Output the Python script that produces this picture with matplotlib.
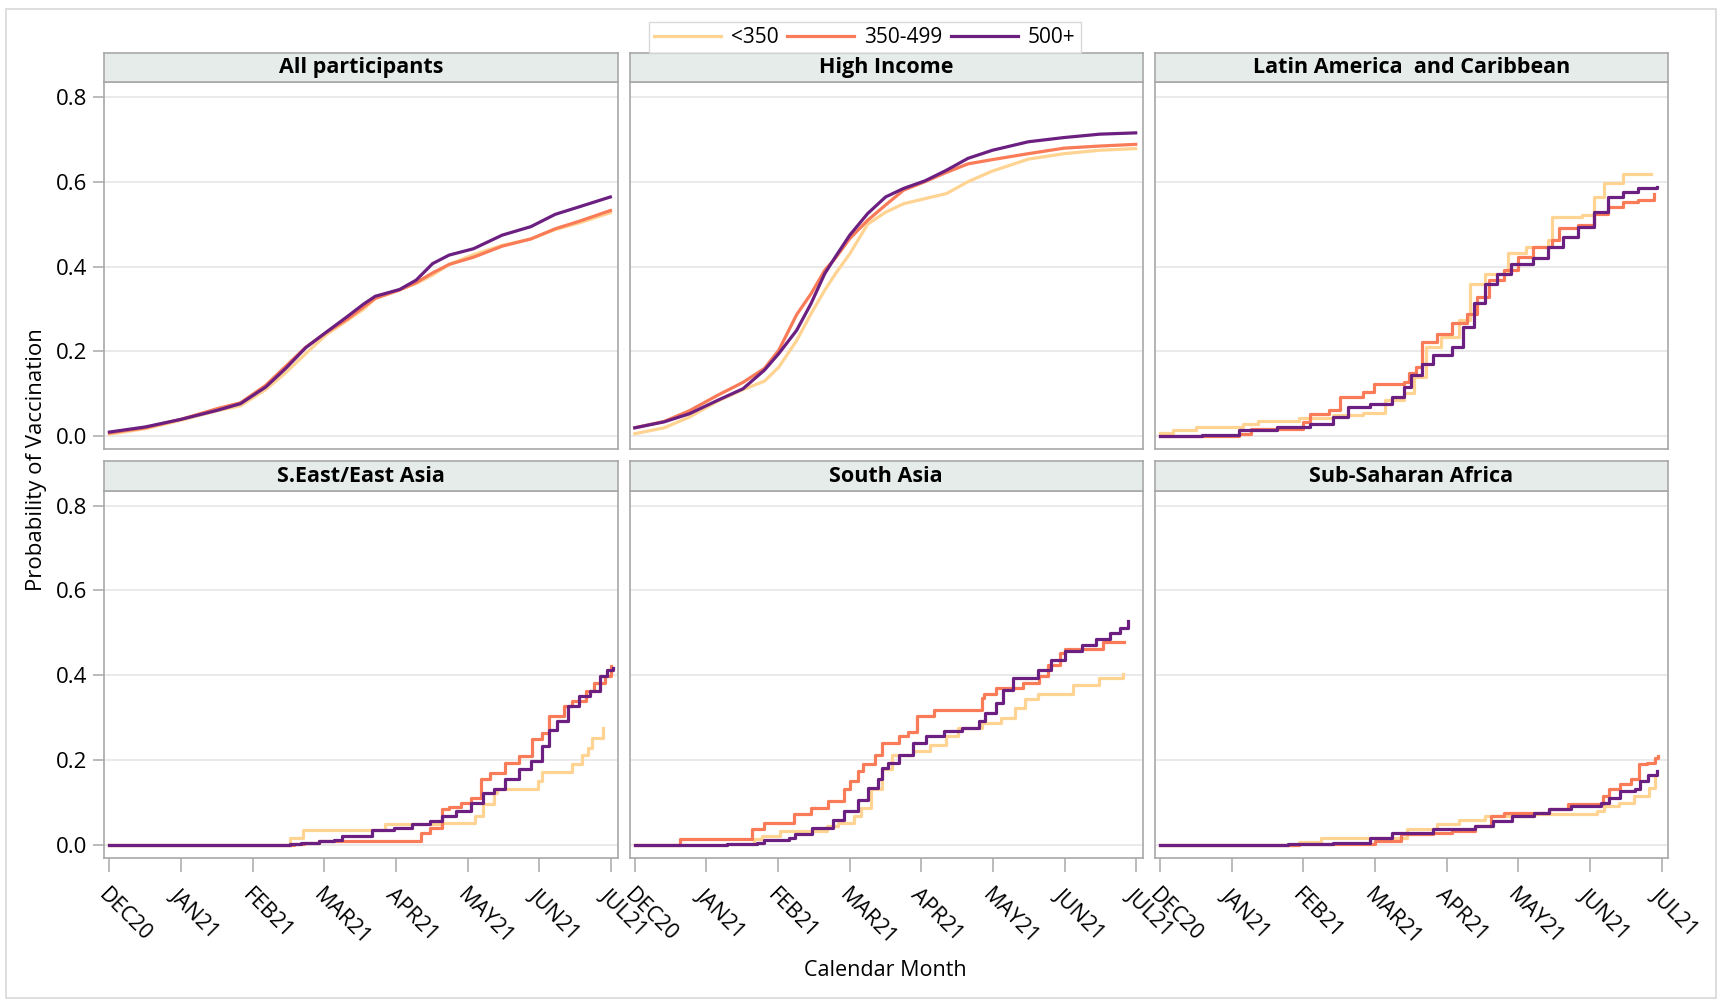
import numpy as np
import matplotlib
matplotlib.use('Agg')
import matplotlib.pyplot as plt
from matplotlib.patches import Rectangle
from matplotlib.lines import Line2D

plt.rcParams['font.family'] = ['Open Sans', 'DejaVu Sans']

# --- datos -------------------------------------------------------------------
meses = ['DEC20', 'JAN21', 'FEB21', 'MAR21', 'APR21', 'MAY21', 'JUN21', 'JUL21']
grupos = ['<350', '350-499', '500+']
colores = ['#FFD391', '#F97B57', '#6B1F80']
regiones = ['All participants', 'High Income', 'Latin America  and Caribbean',
            'S.East/East Asia', 'South Asia', 'Sub-Saharan Africa']

# meses desde DEC20 (t) y probabilidad acumulada (p)
# All participants
all_t = [0, 0.5, 1.0, 1.5, 1.83, 2.18, 2.46, 2.74, 3.03, 3.31, 3.55, 3.71, 4.05, 4.28,
         4.51, 4.74, 5.08, 5.48, 5.88, 6.22, 6.56, 6.99]
all_bajo = [0.005, 0.018, 0.038, 0.060, 0.072, 0.110, 0.150, 0.195, 0.240, 0.272, 0.300,
            0.325, 0.345, 0.360, 0.380, 0.405, 0.428, 0.450, 0.465, 0.487, 0.503, 0.527]
all_medio = [0.008, 0.020, 0.040, 0.065, 0.079, 0.120, 0.165, 0.210, 0.245, 0.275, 0.305,
             0.325, 0.345, 0.362, 0.385, 0.405, 0.422, 0.448, 0.465, 0.489, 0.507, 0.532]
all_alto = [0.010, 0.022, 0.040, 0.061, 0.077, 0.116, 0.160, 0.209, 0.246, 0.281, 0.312,
            0.330, 0.346, 0.368, 0.407, 0.427, 0.442, 0.474, 0.494, 0.523, 0.541, 0.564]

# High Income
hi_t = [0, 0.41, 0.76, 1.16, 1.51, 1.81, 2.01, 2.26, 2.46, 2.65, 2.80, 3.0, 3.25, 3.5,
        3.75, 4.05, 4.35, 4.65, 4.99, 5.49, 5.99, 6.49, 6.99]
hi_bajo = [0.006, 0.020, 0.045, 0.083, 0.110, 0.130, 0.163, 0.226, 0.289, 0.344, 0.383,
           0.430, 0.500, 0.528, 0.548, 0.560, 0.572, 0.600, 0.625, 0.653, 0.666, 0.674, 0.678]
hi_medio = [0.020, 0.035, 0.060, 0.097, 0.127, 0.160, 0.203, 0.287, 0.336, 0.391, 0.420,
            0.466, 0.509, 0.545, 0.580, 0.600, 0.622, 0.642, 0.652, 0.666, 0.679, 0.684, 0.688]
hi_alto = [0.020, 0.034, 0.053, 0.085, 0.112, 0.156, 0.195, 0.250, 0.313, 0.383, 0.423,
           0.474, 0.525, 0.564, 0.584, 0.602, 0.627, 0.655, 0.674, 0.694, 0.704, 0.712, 0.715]

# Latin America and Caribbean
la_bajo_t = [0, 0.18, 0.51, 1.16, 1.37, 1.94, 2.41, 2.83, 3.14, 3.40, 3.55, 3.71, 3.92,
             4.18, 4.33, 4.54, 4.85, 5.11, 5.42, 5.47, 5.89, 6.05, 6.20, 6.46, 6.85]
la_bajo = [0.008, 0.014, 0.022, 0.028, 0.036, 0.042, 0.050, 0.056, 0.085, 0.101, 0.140,
           0.210, 0.234, 0.273, 0.360, 0.383, 0.431, 0.446, 0.462, 0.517, 0.521, 0.564,
           0.596, 0.618, 0.618]
la_medio_t = [0, 1.11, 1.27, 1.99, 2.10, 2.36, 2.51, 2.83, 2.99, 3.40, 3.48, 3.58, 3.66,
              3.86, 4.07, 4.28, 4.43, 4.59, 4.80, 5.00, 5.21, 5.47, 5.57, 5.84, 6.05, 6.25,
              6.46, 6.67, 6.90]
la_medio = [0.0, 0.006, 0.018, 0.034, 0.053, 0.061, 0.093, 0.105, 0.124, 0.128, 0.148,
            0.163, 0.222, 0.242, 0.266, 0.289, 0.328, 0.368, 0.391, 0.423, 0.446, 0.462,
            0.490, 0.497, 0.525, 0.541, 0.552, 0.556, 0.572]
la_alto_t = [0, 0.59, 1.11, 1.63, 2.10, 2.41, 2.62, 2.93, 3.24, 3.40, 3.50, 3.66, 3.81,
             4.07, 4.23, 4.38, 4.54, 4.70, 4.90, 5.21, 5.42, 5.63, 5.84, 6.05, 6.25, 6.46,
             6.67, 6.93]
la_alto = [0.0, 0.002, 0.016, 0.022, 0.028, 0.046, 0.069, 0.077, 0.093, 0.116, 0.144,
           0.171, 0.191, 0.210, 0.258, 0.313, 0.360, 0.383, 0.407, 0.419, 0.446, 0.470,
           0.494, 0.529, 0.564, 0.576, 0.584, 0.588]

# S.East/East Asia
se_bajo_t = [0, 2.52, 2.70, 3.84, 4.64, 5.10, 5.21, 5.36, 5.41, 5.98, 6.03, 6.45, 6.60,
             6.68, 6.73, 6.89]
se_bajo = [0.0, 0.017, 0.035, 0.049, 0.053, 0.068, 0.096, 0.123, 0.133, 0.151, 0.172,
           0.190, 0.213, 0.229, 0.253, 0.276]
se_medio_t = [0, 2.57, 2.72, 2.93, 4.35, 4.48, 4.64, 4.74, 4.90, 5.05, 5.18, 5.31, 5.52,
              5.72, 5.90, 6.03, 6.14, 6.34, 6.45, 6.65, 6.76, 6.91, 7.0]
se_medio = [0.0, 0.003, 0.005, 0.009, 0.029, 0.041, 0.084, 0.090, 0.100, 0.111, 0.155,
            0.170, 0.194, 0.209, 0.249, 0.264, 0.304, 0.327, 0.339, 0.362, 0.382, 0.398, 0.423]
se_alto_t = [0, 2.52, 2.67, 2.93, 3.14, 3.24, 3.66, 3.97, 4.22, 4.48, 4.64, 4.84, 5.05,
             5.21, 5.36, 5.52, 5.72, 5.88, 6.03, 6.14, 6.24, 6.40, 6.55, 6.71, 6.84, 6.94, 7.02]
se_alto = [0.0, 0.002, 0.005, 0.009, 0.012, 0.021, 0.035, 0.041, 0.049, 0.056, 0.068,
           0.080, 0.100, 0.123, 0.131, 0.155, 0.178, 0.198, 0.233, 0.272, 0.292, 0.327,
           0.351, 0.362, 0.398, 0.413, 0.417]

# South Asia
sa_bajo_t = [0, 1.28, 1.66, 1.78, 2.02, 2.68, 2.84, 3.06, 3.16, 3.30, 3.45, 3.59, 3.88,
             4.12, 4.34, 4.51, 4.85, 5.11, 5.30, 5.45, 5.62, 6.12, 6.48, 6.81]
sa_bajo = [0.0, 0.002, 0.013, 0.021, 0.033, 0.045, 0.053, 0.068, 0.088, 0.131, 0.178,
           0.213, 0.221, 0.235, 0.256, 0.276, 0.288, 0.300, 0.323, 0.343, 0.355, 0.378,
           0.394, 0.404]
sa_medio_t = [0, 0.63, 1.64, 1.81, 2.22, 2.46, 2.70, 2.92, 3.01, 3.11, 3.18, 3.35, 3.45,
              3.69, 3.81, 3.94, 4.17, 4.84, 4.87, 5.04, 5.42, 5.64, 5.76, 5.93, 6.0, 6.53, 6.83]
sa_medio = [0.0, 0.013, 0.037, 0.051, 0.072, 0.088, 0.104, 0.131, 0.151, 0.174, 0.190,
            0.213, 0.241, 0.256, 0.266, 0.304, 0.318, 0.347, 0.356, 0.370, 0.382, 0.398,
            0.425, 0.453, 0.462, 0.478, 0.478]
sa_alto_t = [0, 1.28, 1.71, 1.81, 2.15, 2.24, 2.48, 2.77, 2.92, 3.11, 3.25, 3.40, 3.45,
             3.54, 3.69, 3.88, 4.07, 4.32, 4.56, 4.80, 4.89, 5.04, 5.14, 5.28, 5.62, 5.81,
             6.0, 6.24, 6.44, 6.63, 6.77, 6.88]
sa_alto = [0.0, 0.003, 0.005, 0.011, 0.017, 0.025, 0.041, 0.060, 0.080, 0.107, 0.135,
           0.155, 0.182, 0.194, 0.213, 0.241, 0.256, 0.268, 0.276, 0.292, 0.311, 0.335,
           0.366, 0.394, 0.413, 0.437, 0.456, 0.472, 0.485, 0.500, 0.511, 0.529]

# Sub-Saharan Africa
ssa_bajo_t = [0, 1.94, 2.25, 3.45, 3.86, 4.18, 4.54, 5.22, 6.10, 6.20, 6.41, 6.62, 6.83, 6.91]
ssa_bajo = [0.0, 0.007, 0.016, 0.038, 0.049, 0.059, 0.068, 0.072, 0.080, 0.092, 0.100,
            0.115, 0.135, 0.166]
ssa_medio_t = [0, 1.94, 3.0, 3.37, 3.81, 4.07, 4.39, 4.62, 4.80, 5.43, 5.69, 6.18, 6.26,
               6.42, 6.58, 6.68, 6.79, 6.91, 6.95]
ssa_medio = [0.0, 0.003, 0.009, 0.025, 0.029, 0.033, 0.045, 0.068, 0.076, 0.084, 0.096,
             0.115, 0.131, 0.143, 0.155, 0.190, 0.194, 0.205, 0.210]
ssa_alto_t = [0, 1.78, 2.41, 2.93, 3.24, 3.81, 4.39, 4.65, 4.91, 5.22, 5.43, 5.74, 6.16,
              6.26, 6.42, 6.63, 6.70, 6.81, 6.94]
ssa_alto = [0.0, 0.002, 0.005, 0.017, 0.029, 0.037, 0.045, 0.056, 0.068, 0.076, 0.084,
            0.093, 0.100, 0.111, 0.127, 0.131, 0.151, 0.166, 0.174]

# cada panel: lista de (t, p) para <350, 350-499, 500+ ; y si la curva es densa
paneles = [
    ([(all_t, all_bajo), (all_t, all_medio), (all_t, all_alto)], True),
    ([(hi_t, hi_bajo), (hi_t, hi_medio), (hi_t, hi_alto)], True),
    ([(la_bajo_t, la_bajo), (la_medio_t, la_medio), (la_alto_t, la_alto)], False),
    ([(se_bajo_t, se_bajo), (se_medio_t, se_medio), (se_alto_t, se_alto)], False),
    ([(sa_bajo_t, sa_bajo), (sa_medio_t, sa_medio), (sa_alto_t, sa_alto)], False),
    ([(ssa_bajo_t, ssa_bajo), (ssa_medio_t, ssa_medio), (ssa_alto_t, ssa_alto)], False),
]

# --- figura ------------------------------------------------------------------
fig = plt.figure(figsize=(17.23, 10.01), dpi=100)

izq = [0.0606, 0.3655, 0.6703]   # borde izquierdo de cada columna
abajo = [0.551, 0.1427]          # borde inferior de cada fila
ancho, alto, cab = 0.2978, 0.3667, 0.0297
gris = '#A8A8A8'

for k, (series, densa) in enumerate(paneles):
    fila, col = divmod(k, 3)
    ax = fig.add_axes([izq[col], abajo[fila], ancho, alto])
    for g, (t, p) in enumerate(series):
        if densa:
            ax.plot(t, p, color=colores[g], lw=2.3)
        else:
            ax.plot(t, p, color=colores[g], lw=2.3, drawstyle='steps-post')
    ax.set_xlim(-0.07, 7.09)
    ax.set_ylim(-0.031, 0.834)
    ax.set_yticks([0, 0.2, 0.4, 0.6, 0.8])
    ax.set_xticks(range(8))
    ax.grid(axis='y', color='#E6E6E6', lw=1.2)
    ax.set_axisbelow(True)
    for s in ax.spines.values():
        s.set_color(gris)
        s.set_linewidth(1.2)
    ax.tick_params(color=gris, length=8, width=1.1, labelsize=16, pad=4)
    if col == 0:
        ax.set_yticklabels(['0.0', '0.2', '0.4', '0.6', '0.8'])
    else:
        ax.tick_params(axis='y', left=False, labelleft=False)
    if fila == 1:
        ax.set_xticklabels(meses, rotation=-45, ha='left', va='top',
                           rotation_mode='anchor', fontsize=15.5)
        ax.tick_params(axis='x', length=10, pad=9)
    else:
        ax.tick_params(axis='x', bottom=False, labelbottom=False)

    # cabecera del panel
    hx = fig.add_axes([izq[col], abajo[fila] + alto, ancho, cab])
    hx.set_facecolor('#E5ECE9')
    hx.set_xticks([])
    hx.set_yticks([])
    for s in hx.spines.values():
        s.set_color(gris)
        s.set_linewidth(1.2)
    hx.text(0.5, 0.5, regiones[k], ha='center', va='center', fontsize=15.5,
            fontweight='bold', transform=hx.transAxes)

fig.text(0.021, 0.541, 'Probability of Vaccination', rotation=90, ha='center',
         va='center', fontsize=16)
fig.text(0.514, 0.03, 'Calendar Month', ha='center', va='center', fontsize=15.5)

manejadores = [Line2D([], [], color=c, lw=2.3) for c in colores]
fig.legend(manejadores, grupos, loc='center', bbox_to_anchor=(0.502, 0.9625), ncol=3,
           fontsize=15, frameon=True, fancybox=False, edgecolor='#D0D0D0',
           handlelength=3.2, handletextpad=0.5, columnspacing=0.4, borderpad=0.25,
           borderaxespad=0)

# marco exterior
fig.patches.append(Rectangle((0.0032, 0.003), 0.9925, 0.988, transform=fig.transFigure,
                             fill=False, edgecolor='#D8D8D8', lw=1.2))

fig.savefig('out.png', dpi=100)
